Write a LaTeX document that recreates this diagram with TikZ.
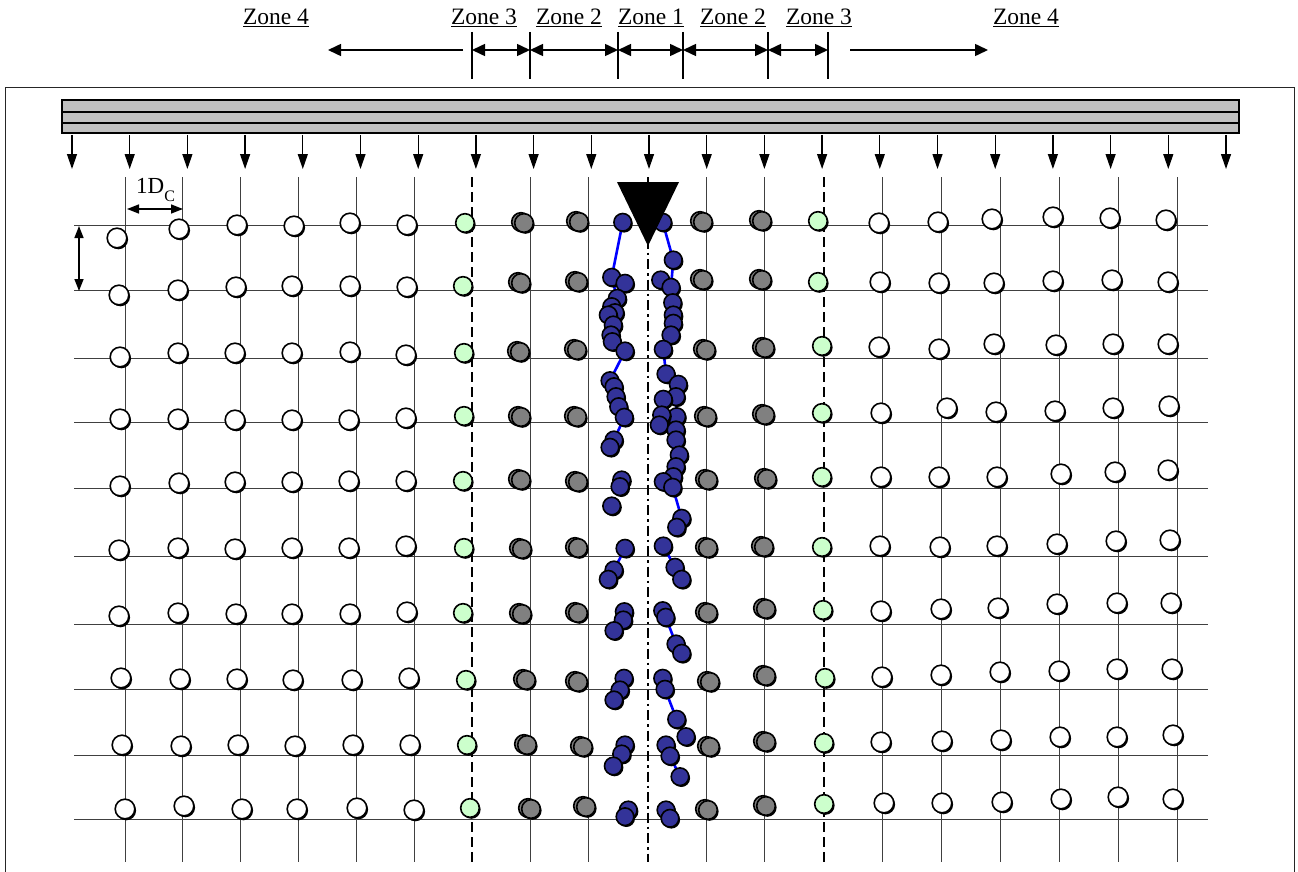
\documentclass[tikz,border=0pt]{standalone}
\usepackage{fontspec}
\setmainfont{Liberation Serif}
\usetikzlibrary{arrows.meta}
\definecolor{dotgray}{HTML}{808080}
\definecolor{dotgreen}{HTML}{CCFFCC}
\definecolor{dotblue}{HTML}{333399}
\definecolor{barfill}{HTML}{C0C0C0}
\definecolor{gridc}{HTML}{404040}
\definecolor{trail}{HTML}{0000FF}
\newcommand\mkdot[4]{%
  \fill[black] (#2+1.3,#3+1.5) circle[radius=#4pt];
  \filldraw[fill=#1,draw=black,line width=1.6pt] (#2,#3) circle[radius=#4pt];}
\newcommand\gydot[2]{\mkdot{dotgray}{#1-3}{#2-1}{9.3}\mkdot{dotgray}{#1}{#2}{9.3}}
\begin{document}
\begin{tikzpicture}[x=1pt,y=-1pt,
  zlabel/.style={anchor=base,inner sep=0pt,font=\fontsize{23.5}{27}\selectfont},
  tick/.style={line width=1.5pt},
  dimarrow/.style={line width=1.5pt,{Triangle[length=13pt,width=12pt]}-{Triangle[length=13pt,width=12pt]}},
  onearrow/.style={line width=1.5pt,-{Triangle[length=13pt,width=12pt]}},
  loadarrow/.style={line width=1.3pt,-{Triangle[length=15pt,width=10pt]}},
  gridline/.style={line width=1pt,draw=gridc},
  dashline/.style={line width=1.8pt,dash pattern=on 10pt off 5pt},
  centerline/.style={line width=1.8pt,dash pattern=on 10pt off 4pt on 2.5pt off 4pt},
  trailline/.style={line width=2.6pt,draw=trail}]
\clip (0,0) rectangle (1298,872);
\useasboundingbox (0,0) rectangle (1298,872);

% zone header
\node[zlabel] (z4l) at (276,25) {\underline{Zone 4}};
\node[zlabel] (z3l) at (484,25) {\underline{Zone 3}};
\node[zlabel] (z2l) at (569,25) {\underline{Zone 2}};
\node[zlabel] (z1)  at (651,25) {\underline{Zone 1}};
\node[zlabel] (z2r) at (733,25) {\underline{Zone 2}};
\node[zlabel] (z3r) at (819,25) {\underline{Zone 3}};
\node[zlabel] (z4r) at (1026,25) {\underline{Zone 4}};
\foreach \n/\x in {a/472,b/530,c/618,d/683,e/768,f/828}{
  \coordinate (t\n) at (\x,50);
  \draw[tick] (\x,32) -- (\x,79);
}
\draw[dimarrow] (ta) -- (tb);
\draw[dimarrow] (tb) -- (tc);
\draw[dimarrow] (tc) -- (td);
\draw[dimarrow] (td) -- (te);
\draw[dimarrow] (te) -- (tf);
\coordinate (l0) at (463,50); \coordinate (l1) at (328,50);
\coordinate (r0) at (850,50); \coordinate (r1) at (988,50);
\draw[onearrow] (l0) -- (l1);
\draw[onearrow] (r0) -- (r1);

% frame
\draw[line width=1pt,draw=black!85] (5,880) -- (5,88) -- (1294,88) -- (1294,880);

% bar
\filldraw[fill=barfill,draw=black,line width=1.8pt] (62,100) rectangle (1239,133);
\draw[line width=1.8pt] (62,112) -- (1239,112);
\draw[line width=1.8pt] (62,123) -- (1239,123);
\foreach \i in {0,...,20}{
  \draw[loadarrow] (72+57.7*\i,135) -- (72+57.7*\i,169);
}

% grid
\foreach \y in {225,290.7,358,422.3,488,556.5,624,689.3,755.3,819.3}{
  \draw[gridline] (74,\y) -- (1208,\y);
}
\foreach \i in {0,1,2,3,4,5,7,8}{
  \draw[gridline] (125+57.9*\i,177) -- (125+57.9*\i,862);
}
\foreach \i in {0,1,3,4,5,6,7,8}{
  \draw[gridline] (706+58.9*\i,177) -- (706+58.9*\i,862);
}
\draw[dashline] (472,177) -- (472,862);
\draw[dashline] (824,177) -- (824,862);
\draw[centerline] (648,177) -- (648,862);

% dimension annotation
\node[anchor=base west,inner sep=0pt,font=\fontsize{23}{26}\selectfont] (dc) at (136,193)
  {1D\raisebox{-9pt}{\fontsize{16}{16}\selectfont C}};
\coordinate (h0) at (127,209); \coordinate (h1) at (183,209);
\draw[line width=1.5pt,{Triangle[length=12pt,width=9pt]}-{Triangle[length=12pt,width=9pt]}] (h0) -- (h1);
\coordinate (v0) at (79,226); \coordinate (v1) at (79,291);
\draw[line width=1.5pt,{Triangle[length=12pt,width=9pt]}-{Triangle[length=12pt,width=9pt]}] (v0) -- (v1);

% blue trails
\draw[trailline] (622.7,222.3) -- (611.7,277.3) -- (617.3,298.3) -- (611.7,306.7) -- (613.3,325) -- (612.3,341.7) -- (625,351) -- (610,380.7) -- (618.7,406.7) -- (624.3,417.3) -- (614,440);
\draw[trailline] (625,548.3) -- (614,570);
\draw[trailline] (662.7,222.3) -- (673.3,260) -- (671,287.3) -- (673.3,323.3) -- (671,335) -- (663.3,349.3) -- (666,374) -- (676,396.7) -- (676.7,416.7) -- (676,440) -- (679.3,455) -- (676,466.7) -- (672.7,487.3) -- (681.7,518.3);
\draw[trailline] (663.3,546) -- (675,567.3);
\draw[trailline] (665.7,617.3) -- (676,644);
\draw[trailline] (665,689.3) -- (676.7,719.3) -- (686,736.7);
\draw[trailline] (670,756) -- (680,776.7);

% white dots
\foreach \x/\y in {
 117/238,179/229,237/225,294/226,350/223,407/225,879/223,938/222,992/219,1053/217,1110/218,1166/220,
 119/295,178/290,236/287,292/286,350/286,407/287,880/282,939/283,994/283,1053/281,1112/280,1168/282,
 120/357,178/353,235/353,292/353,350/352,406/355,879/347,939/349,994/344,1056/345,1113/344,1168/344,
 120/419,178/419,235/420,292/420,349/420,406/418,881/413,947/408,996/412,1055/411,1113/408,1169/406,
 120/486,179/483,235/482,292/482,349/481,406/481,881/477,939/477,997/477,1061/474,1115/472,1168/470,
 119/550,178/548,235/549,292/548,349/548,406/546,880/546,940/547,997/546,1057/544,1116/541,1170/540,
 119/616,178/613,236/614,292/614,350/614,407/612,881/611,941/609,998/608,1057/604,1117/603,1171/603,
 121/678,180/679,237/679,293/680,352/680,409/678,882/677,941/675,1000/672,1059/671,1117/669,1172/669,
 122/745,181/746,238/745,295/746,353/745,410/745,881/742,942/741,1001/740,1060/737,1117/737,1173/735,
 125/809,184/806,242/809,297/809,357/808,414/810,884/803,942/803,1002/802,1061/799,1118/797,1173/799}{
  \mkdot{white}{\x}{\y}{9.8}
}
% green dots
\foreach \x/\y in {465/223,463/286,464/353,464/416,463/481,464/548,463/613,466/680,467/745,470/808,
 818/221,818/282,822/346,822/413,822/477,822/547,823/610,825/678,824/743,824/804}{
  \mkdot{dotgreen}{\x}{\y}{9.3}
}
% gray dots
\foreach \x/\y in {524/223,579/222,703/222,762/221,
 521/283,578/282,703/280,762/280,
 520/352,577/350,706/350,765/348,
 521/417,577/417,707/417,765/415,
 521/480,578/482,708/480,767/479,
 522/549,578/548,708/548,764/547,
 522/614,578/613,708/613,766/609,
 526/680,578/682,710/682,766/676,
 527/745,583/747,710/747,766/742,
 531/809,586/807,708/810,766/806}{
  \gydot{\x}{\y}
}
% blue dots
\foreach \x/\y in {
 622.7/222.3,662.7/222.3,673.3/260,611.7/277.3,625/283.3,660.7/280,671/287.3,
 617.3/298.3,611.7/306.7,615/312.7,608.3/315,613.3/325,611/335,612.3/341.7,625/351,
 672.7/302.7,673.3/315,673.3/323.3,671/335,663.3/349.3,
 610/380.7,614/386.7,616/396.7,618.7/406.7,624.3/417.3,614/440,610/447.3,
 666/374,678.3/384.3,676/396.7,663.3/399.3,676.7/416.7,661.7/415,659.3/425,676/430,676/440,
 679.3/455,676/466.7,673.3/476.7,663.3/481.7,672.7/487.3,621.7/480,620/486.7,
 611.7/506,681.7/518.3,676.7/527.3,625/548.3,663.3/546,614/570,608.3/579.3,675/567.3,681.7/579.3,
 624.3/611.7,623.3/620,614/630.7,662.7/610.7,665.7/617.3,676/644,681.7/653.3,
 624/678.3,620/690,614/700,662.7/678.3,665/689.3,676.7/719.3,686/736.7,
 625/745,621.7/754,613.3/766,666/745,670/756,680/776.7,
 628.3/810,625/816.7,666/810,670/818.3}{
  \mkdot{dotblue}{\x}{\y}{8.8}
}

% load point triangle
\fill[black] (617,182) -- (679,182) -- (648,246) -- cycle;
\end{tikzpicture}
\end{document}
